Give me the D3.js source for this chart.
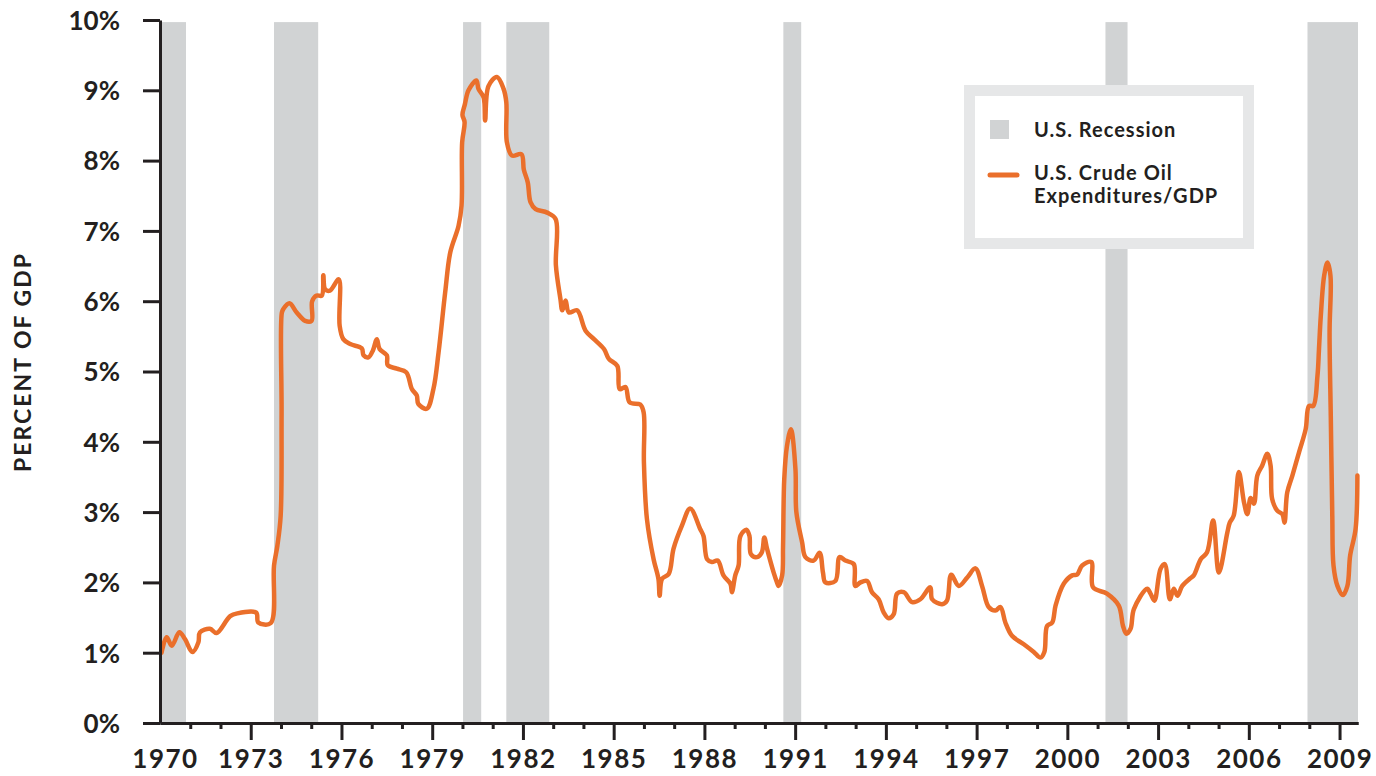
<!DOCTYPE html>
<html>
<head>
<meta charset="utf-8">
<script src="https://cdn.jsdelivr.net/npm/d3@7"></script>
<style>
  body { margin: 0; background: #fff; }
  text { font-family: Lato, "Open Sans", sans-serif; font-weight: 700; fill: #231f20; }
</style>
</head>
<body>
<div id="plot"></div>
<script>
// chart size
var svgWidth = 1376;
var svgHeight = 776;

// plot area in pixels
var margin = { top: 20, right: 18, bottom: 53, left: 160 };
var width = svgWidth - margin.left - margin.right;
var height = svgHeight - margin.top - margin.bottom;

// x domain (decimal years) and y domain (%)
var xDomain = [1970, 2009.61];
var yDomain = [0, 10];

// tick labels
var yTicks = [0, 1, 2, 3, 4, 5, 6, 7, 8, 9, 10];
var yearLabels = [1970, 1973, 1976, 1979, 1982, 1985, 1988, 1991, 1994, 1997, 2000, 2003, 2006, 2009];

// U.S. recessions (decimal years)
var recessionStart = [1970.0, 1973.77, 1980.02, 1981.45, 1990.61, 2001.26, 2007.94];
var recessionEnd = [1970.86, 1975.23, 1980.62, 1982.87, 1991.2, 2001.99, 2009.61];

// U.S. crude oil expenditures / GDP (%), [year, value]
var oil1970s = [
  [1970.05, 1.00], [1970.22, 1.22], [1970.39, 1.10], [1970.64, 1.29], [1970.83, 1.19],
  [1971.07, 1.01], [1971.27, 1.15], [1971.32, 1.29], [1971.65, 1.34], [1971.87, 1.28],
  [1972.32, 1.52], [1972.56, 1.56], [1973.18, 1.57], [1973.25, 1.43], [1973.66, 1.42],
  [1973.77, 2.24], [1973.88, 2.52], [1973.99, 2.95], [1974.02, 4.40], [1974.03, 5.84],
  [1974.08, 5.89], [1974.28, 5.97], [1974.52, 5.84], [1974.80, 5.72], [1975.01, 5.72],
  [1975.03, 6.00], [1975.18, 6.08], [1975.35, 6.08], [1975.40, 6.37], [1975.46, 6.17],
  [1975.62, 6.15], [1975.91, 6.31], [1975.94, 5.65], [1976.06, 5.46], [1976.29, 5.39],
  [1976.67, 5.33], [1976.73, 5.23], [1976.89, 5.20], [1977.04, 5.30], [1977.17, 5.46],
  [1977.26, 5.32], [1977.50, 5.23], [1977.53, 5.09], [1977.83, 5.04], [1978.14, 4.99],
  [1978.33, 4.75], [1978.49, 4.66], [1978.54, 4.54], [1978.82, 4.47], [1979.04, 4.75],
  [1979.21, 5.27], [1979.43, 6.13], [1979.60, 6.70], [1979.87, 7.07], [1979.97, 7.36]
];
var oil1980s = [
  [1979.99, 8.26], [1980.07, 8.55], [1980.00, 8.65], [1980.08, 8.80], [1980.20, 9.00],
  [1980.46, 9.14], [1980.53, 9.02], [1980.70, 8.90], [1980.75, 8.57], [1980.86, 9.06],
  [1981.14, 9.19], [1981.36, 9.02], [1981.45, 8.83], [1981.47, 8.26], [1981.64, 8.07],
  [1981.95, 8.09], [1982.03, 7.87], [1982.16, 7.69], [1982.25, 7.41], [1982.42, 7.31],
  [1982.80, 7.26], [1983.08, 7.17], [1983.09, 6.51], [1983.24, 6.03], [1983.30, 5.87],
  [1983.41, 6.01], [1983.52, 5.84], [1983.79, 5.87], [1984.07, 5.58], [1984.35, 5.46],
  [1984.68, 5.32], [1984.84, 5.18], [1985.12, 5.08], [1985.20, 4.75], [1985.39, 4.78],
  [1985.53, 4.56], [1985.88, 4.53], [1985.99, 4.42], [1986.00, 3.71], [1986.10, 2.90],
  [1986.32, 2.33], [1986.48, 2.05], [1986.52, 1.81], [1986.60, 2.05], [1986.82, 2.12],
  [1986.98, 2.48], [1987.26, 2.81], [1987.53, 3.05], [1987.86, 2.76], [1987.97, 2.66],
  [1988.09, 2.33], [1988.25, 2.29], [1988.44, 2.31], [1988.63, 2.10], [1988.86, 1.98],
  [1988.91, 1.86], [1989.02, 2.10], [1989.13, 2.24], [1989.19, 2.66], [1989.39, 2.75],
  [1989.49, 2.66], [1989.54, 2.40], [1989.74, 2.36], [1989.90, 2.43], [1989.98, 2.64]
];
var oil1990s = [
  [1990.07, 2.48], [1990.29, 2.14], [1990.40, 2.00], [1990.45, 1.95], [1990.57, 2.10],
  [1990.60, 2.52], [1990.64, 3.47], [1990.73, 3.94], [1990.86, 4.18], [1991.01, 3.61],
  [1991.04, 3.00], [1991.23, 2.57], [1991.34, 2.36], [1991.61, 2.31], [1991.81, 2.42],
  [1991.92, 2.14], [1992.00, 2.00], [1992.33, 2.02], [1992.47, 2.36], [1992.66, 2.31],
  [1992.94, 2.26], [1992.99, 1.95], [1993.16, 2.00], [1993.38, 2.02], [1993.54, 1.86],
  [1993.76, 1.76], [1993.93, 1.57], [1994.09, 1.49], [1994.26, 1.55], [1994.37, 1.84],
  [1994.59, 1.86], [1994.87, 1.72], [1995.14, 1.76], [1995.47, 1.93], [1995.53, 1.76],
  [1995.86, 1.69], [1996.02, 1.74], [1996.16, 2.11], [1996.41, 1.95], [1996.69, 2.07],
  [1996.96, 2.20], [1997.18, 1.95], [1997.40, 1.65], [1997.62, 1.60], [1997.79, 1.65],
  [1997.95, 1.43], [1998.17, 1.24], [1998.56, 1.12], [1998.89, 1.01], [1999.11, 0.93],
  [1999.24, 1.01], [1999.33, 1.38], [1999.50, 1.43], [1999.61, 1.67], [1999.88, 1.98]
];
var oil2000s = [
  [2000.16, 2.10], [2000.32, 2.11], [2000.49, 2.24], [2000.79, 2.29], [2000.85, 1.93],
  [2001.31, 1.84], [2001.70, 1.67], [2001.84, 1.38], [2001.95, 1.27], [2002.09, 1.34],
  [2002.20, 1.62], [2002.64, 1.91], [2002.75, 1.84], [2002.88, 1.74], [2003.08, 2.19],
  [2003.22, 2.26], [2003.39, 1.76], [2003.52, 1.91], [2003.64, 1.81], [2003.80, 1.95],
  [2004.07, 2.06], [2004.18, 2.10], [2004.41, 2.33], [2004.62, 2.43], [2004.82, 2.88],
  [2005.01, 2.14], [2005.29, 2.71], [2005.37, 2.85], [2005.50, 2.95], [2005.67, 3.57],
  [2005.84, 3.14], [2005.95, 2.97], [2006.06, 3.20], [2006.17, 3.12], [2006.28, 3.52],
  [2006.44, 3.66], [2006.61, 3.83], [2006.72, 3.66], [2006.77, 3.19], [2006.94, 3.02],
  [2007.11, 2.97], [2007.18, 2.85], [2007.27, 3.28], [2007.44, 3.52], [2007.66, 3.85],
  [2007.88, 4.18], [2007.99, 4.51], [2008.13, 4.51], [2008.27, 4.94], [2008.32, 5.32],
  [2008.38, 5.79], [2008.49, 6.36], [2008.60, 6.55], [2008.70, 6.36], [2008.67, 5.56],
  [2008.71, 4.37], [2008.76, 2.95], [2008.80, 2.24], [2008.93, 1.95], [2009.11, 1.82],
  [2009.26, 1.95], [2009.35, 2.38], [2009.53, 2.76], [2009.59, 3.52]
];
var oilSeries = oil1970s.concat(oil1980s, oil1990s, oil2000s);

var ink = "#231f20";
var recessionColor = "#d1d3d4";
var oilColor = "#ea6f2b";

var svg = d3.select("#plot")
  .append("svg")
  .attr("width", svgWidth)
  .attr("height", svgHeight);

var chartGroup = svg.append("g")
  .attr("transform", `translate(${margin.left}, ${margin.top})`);

var xScale = d3.scaleLinear().domain(xDomain).range([0, width]);
var yScale = d3.scaleLinear().domain(yDomain).range([height, 0]);

// recession bars
chartGroup.selectAll(".recession")
  .data(recessionStart)
  .enter()
  .append("rect")
  .attr("class", "recession")
  .attr("x", d => xScale(Math.max(d, xDomain[0])))
  .attr("width", (d, i) => xScale(Math.min(recessionEnd[i], xDomain[1])) - xScale(Math.max(d, xDomain[0])))
  .attr("y", yScale(9.97))
  .attr("height", yScale(0) - yScale(9.97))
  .attr("fill", recessionColor);

// oil line
var line = d3.line()
  .x(d => xScale(d[0]))
  .y(d => yScale(d[1]))
  .curve(d3.curveCatmullRom.alpha(0.5));

chartGroup.append("path")
  .datum(oilSeries)
  .attr("d", line)
  .attr("fill", "none")
  .attr("stroke", oilColor)
  .attr("stroke-width", 4.5)
  .attr("stroke-linejoin", "round")
  .attr("stroke-linecap", "round");

// y axis
var leftAxis = d3.axisLeft(yScale)
  .tickValues(yTicks)
  .tickFormat(d => d + "%")
  .tickSize(17)
  .tickSizeOuter(0)
  .tickPadding(23);

var yAxis = chartGroup.append("g").call(leftAxis);
yAxis.selectAll("text").attr("font-size", 26).attr("font-family", null).attr("dy", "0.36em");

// x axis: minor (every year) and major (every 3 years) ticks
var minorYears = d3.range(1971, 2010).filter(y => (y - 1970) % 3 !== 0);

var minorAxis = d3.axisBottom(xScale)
  .tickValues(minorYears)
  .tickFormat("")
  .tickSize(6)
  .tickSizeOuter(0);

chartGroup.append("g")
  .attr("transform", `translate(0, ${height})`)
  .call(minorAxis);

var bottomAxis = d3.axisBottom(xScale)
  .tickValues(yearLabels)
  .tickFormat(d3.format("d"))
  .tickSize(17)
  .tickSizeOuter(0)
  .tickPadding(10);

var xAxis = chartGroup.append("g")
  .attr("transform", `translate(0, ${height})`)
  .call(bottomAxis);
xAxis.selectAll("text")
  .attr("font-size", 26)
  .attr("letter-spacing", 1.5)
  .attr("font-family", null);
xAxis.selectAll(".tick").filter(d => d === 1970).select("line").remove();
xAxis.selectAll(".tick").filter(d => d === 1970).select("text").attr("x", 5);

chartGroup.selectAll(".domain").attr("stroke", ink).attr("stroke-width", 3);
chartGroup.selectAll(".tick line").attr("stroke", ink).attr("stroke-width", 3);

// y axis title
svg.append("text")
  .attr("transform", "rotate(-90)")
  .attr("x", -362)
  .attr("y", 31)
  .attr("text-anchor", "middle")
  .attr("font-size", 23)
  .attr("letter-spacing", 2)
  .text("PERCENT OF GDP");

// legend
var legend = svg.append("g");

legend.append("rect")
  .attr("x", 969.5)
  .attr("y", 90.5)
  .attr("width", 279)
  .attr("height", 153)
  .attr("fill", "#fff")
  .attr("stroke", "#e6e7e8")
  .attr("stroke-width", 11);

legend.append("rect")
  .attr("x", 990)
  .attr("y", 120)
  .attr("width", 19)
  .attr("height", 19)
  .attr("fill", recessionColor);

legend.append("text")
  .attr("x", 1034)
  .attr("y", 137)
  .attr("font-size", 20)
  .attr("letter-spacing", 1)
  .text("U.S. Recession");

legend.append("line")
  .attr("x1", 990)
  .attr("x2", 1017)
  .attr("y1", 175)
  .attr("y2", 175)
  .attr("stroke", oilColor)
  .attr("stroke-width", 5)
  .attr("stroke-linecap", "round");

legend.append("text")
  .attr("x", 1034)
  .attr("y", 180)
  .attr("font-size", 20)
  .attr("letter-spacing", 1)
  .text("U.S. Crude Oil");

legend.append("text")
  .attr("x", 1034)
  .attr("y", 203)
  .attr("font-size", 20)
  .attr("letter-spacing", 1)
  .text("Expenditures/GDP");
</script>
</body>
</html>
